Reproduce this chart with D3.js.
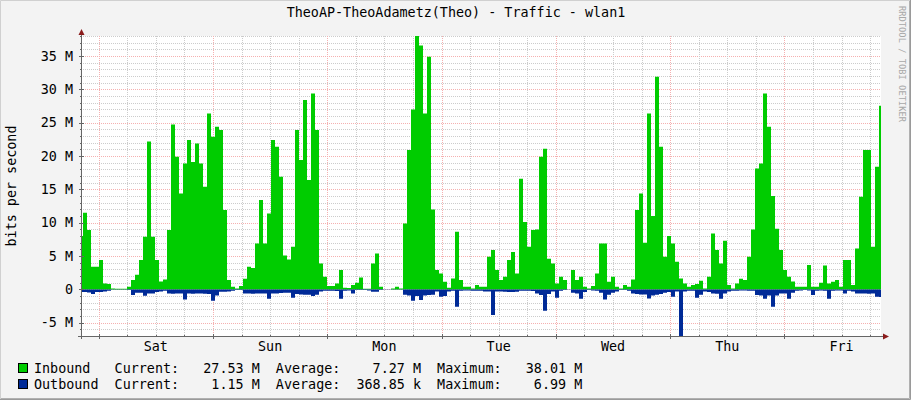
<!DOCTYPE html>
<html><head><meta charset="utf-8">
<script src="https://cdn.jsdelivr.net/npm/d3@7"></script>
<style>
body{margin:0;background:#f3f3f3}
svg{display:block}
text{font-family:"DejaVu Sans Mono",monospace;white-space:pre}
</style>
</head><body><svg id="c" width="911" height="400"></svg>
<script>
// ---- data (Mbit/s), one sample every 7d/200 starting Fri ~20:17 ----
const inbound = [
 8,11.5,8.9,3.4,3.4,4.4,0.9,0.8,0.15,0.1, 0.1,0.1,0.4,1.4,2.2,4.4,7.9,22.2,7.9,4.4,
 1.2,1.5,8.9,24.75,19.9,14.4,18.9,22.4,19.1,21.9, 18.9,15.4,26.4,22.9,
 24.4,23.9,11.9,1.4,0.4,0.15,0.5,1.6,3.4,3.2, 6.9,13.4,6.9,11.4,22.4,21.4,16.9,5.1,4.5,6.4,
 23.9,19.4,28.4,16.4,29.4,23.9,3.9,1.9,0.5,0.5, 0.9,2.9,0.25,0.2,
 0.65,1.0,1.8,0.1,0.1,3.9,5.4,0.4,0,0, 0.15,0.4,0.15,9.9,20.9,27,38.01,36.6,26.4,34.9,
 12,2.9,2.4,1.15,0.25,1.65,8.65,1.4,0.4,0.4, 0.15,0.65,0.4,
 0.4,4.9,5.9,2.9,1.4,1.9,4.4,5.6,2.4,16.6, 10.1,6.4,8.9,9.0,19.9,21.1,4.6,3.9,0.9,1.9,
 1.4,0,2.9,1.4,1.9,0.4,0.15,0.5,2.4,6.9, 6.9,1.15,1.9,0.4,
 0.15,0.65,0.4,1.5,11.9,14.4,7,26.4,11,31.9, 21.4,4.9,8,6.9,4.15,1.65,0.9,0.4,0.65,0.8,
 1.3,0.15,1.9,8.4,5.9,3.9,7.3,0.65,0.15,0.9, 1.6,1.4,4.9,9,
 18.15,18.9,29.4,24.4,14,9.1,5.9,2.9,1.9,1.2, 0.4,0.4,0.4,3.65,0.4,0.4,1.0,3.6,0.9,1.15,
 1.4,0.4,4.4,4.4,0.65,6.15,13.9,20.9,20.9,6.4, 18.4,27.53
];
const outbound = [
 .4,.4,.45,.7,.4,.4,.3,.2,.05,.05, .05,.05,.1,.85,.5,.5,.95,.6,.6,.4,
 .3,.2,.6,.65,.6,.6,1.5,.6,.65,.6, .6,.65,.7,1.7,
 .9,.35,.35,.3,.2,.1,.1,.6,.6,.65, .6,.6,.6,1.4,.6,.6,.55,.5,.5,1.25,
 .7,.75,.8,.8,1.0,.8,.3,.2,.2,.2, .25,1.4,.2,.15,
 .6,.1,.1,.1,.15,.35,.35,.1,.05,.05, .05,.05,.05,.8,.9,1.7,1.0,1.6,.9,.85,
 .8,.3,1.1,1.0,.3,.2,2.6,.2,.15,.15, .2,.2,.2,
 .3,.3,3.85,.3,.3,.35,.4,.4,.35,.2, .2,.2,.25,.6,.85,3.2,.7,.3,1.25,.2,
 .1,.05,.5,.6,1.4,.4,.1,.15,.2,.5, 1.5,.8,.5,.3,
 .1,.1,.2,.6,.7,.75,.75,1.35,.9,.8, .7,.5,.4,1.1,.3,6.99,.3,.2,.2,1.25,
 .8,.3,.4,.6,.65,1.4,.6,.3,.2,.2, .15,.15,.2,.2,
 .85,.9,1.4,.9,2.6,.9,.6,.6,1.4,.5, .2,.15,.1,.15,.85,.2,.15,.2,1.4,.2,
 .15,.15,.6,.2,.3,.6,.6,.6,.65,.6, 1.1,1.15
];
const dayLabels = ["Sat","Sun","Mon","Tue","Wed","Thu","Fri"];
const yTickValues = [-5,0,5,10,15,20,25,30,35];
const yTickLabels = ["-5 M","0","5 M","10 M","15 M","20 M","25 M","30 M","35 M"];
const seriesNames = ["Inbound","Outbound"];
const seriesColors = ["#00cc00","#002a97"];
const currentVals = ["27.53 M","1.15 M"];
const averageVals = ["7.27 M","368.85 k"];
const maximumVals = ["38.01 M","6.99 M"];
const titleText = "TheoAP-TheoAdametz(Theo) - Traffic - wlan1";
const yTitle = "bits per second";
const watermark = "RRDTOOL / TOBI OETIKER";

// ---- scales ----
const start = new Date(2020,0,3,20,17);
const end = new Date(start.getTime() + 7*864e5);
const step = (end - start) / (inbound.length - 1);
const times = inbound.map((_, i) => new Date(start.getTime() + i*step));
const L = 81, R = 881, T = 36, B = 336;
const x = d3.scaleTime().domain([start, end]).range([L, R]);
const y = d3.scaleLinear().domain([-6.99, 38.01]).range([B, T]);
const svg = d3.select("#c");

// canvas shade
svg.append("rect").attr("width",911).attr("height",400).attr("fill","#f3f3f3");
svg.append("path").attr("d","M0.5,399V0.5H910").attr("stroke","#d0d0d0").attr("fill","none");
svg.append("path").attr("d","M910.5,0V399.5H0").attr("stroke","#9a9a9a").attr("fill","none");
svg.append("path").attr("d","M909.5,1V398.5H1").attr("stroke","#b0b0b0").attr("fill","none");

// plot background
svg.append("rect").attr("x",L).attr("y",T).attr("width",R-L).attr("height",B-T).attr("fill","#fff");

const grid = svg.append("g").attr("shape-rendering","crispEdges").attr("stroke-dasharray","1,1");
const minorCol = "#cccccc", majorCol = "#f5b0b0";
// horizontal
d3.range(-6, 39).forEach(v => {
  const yy = Math.round(y(v)) + 0.5;
  grid.append("line").attr("x1",L).attr("x2",R).attr("y1",yy).attr("y2",yy)
    .attr("stroke", v % 5 === 0 ? majorCol : minorCol);
});
// vertical
d3.timeHour.every(6).range(start, end).forEach(t => {
  const xx = Math.round(x(t)) + 0.5;
  const major = t.getHours() === 0;
  grid.append("line").attr("x1",xx).attr("x2",xx).attr("y1",T).attr("y2",B)
    .attr("stroke", major ? majorCol : minorCol);
});

// areas
const areaIn = d3.area().x((d,i)=>x(times[i])).y0(y(0)).y1(d=>y(d)).curve(d3.curveStep);
const areaOut = d3.area().x((d,i)=>x(times[i])).y0(y(0)).y1(d=>y(-d)).curve(d3.curveStep);
svg.append("path").datum(inbound).attr("d",areaIn).attr("fill",seriesColors[0]);
svg.append("path").datum(outbound).attr("d",areaOut).attr("fill",seriesColors[1]);

// axes
const axCol = "#666", arrowCol = "#8b1c1c";
const ax = svg.append("g").attr("shape-rendering","crispEdges");
ax.append("line").attr("x1",L-3).attr("x2",R+4).attr("y1",B+0.5).attr("y2",B+0.5).attr("stroke",axCol);
ax.append("line").attr("x1",L+0.5).attr("x2",L+0.5).attr("y1",T-2).attr("y2",B+3).attr("stroke",axCol);
d3.range(-6, 39).forEach(v => {
  const yy = Math.round(y(v)) + 0.5;
  ax.append("line").attr("x1",L-(v%5===0?2:1)).attr("x2",L+(v%5===0?3:1)).attr("y1",yy).attr("y2",yy).attr("stroke",axCol);
});
d3.timeHour.every(6).range(start, end).forEach(t => {
  const xx = Math.round(x(t)) + 0.5;
  const major = t.getHours() === 0;
  ax.append("line").attr("x1",xx).attr("x2",xx).attr("y1",B-(major?2:1)).attr("y2",B+(major?3:1)).attr("stroke",axCol);
});
svg.append("path").attr("d",`M${L-2.5},${T-1}L${L+3.5},${T-1}L${L+0.5},${T-7}Z`).attr("fill",arrowCol);
svg.append("path").attr("d",`M${R+2},${B-2.5}L${R+2},${B+3.5}L${R+8},${B+0.5}Z`).attr("fill",arrowCol);

// y labels
const fs = "13.4px";
yTickValues.forEach((v,i) => {
  svg.append("text").attr("x",73).attr("y",y(v)+4.5).attr("text-anchor","end")
    .attr("font-size",fs).attr("fill","#000").text(yTickLabels[i]);
});
// x labels at noon
d3.timeDay.range(d3.timeDay.ceil(start), end).forEach((d,i) => {
  const noon = new Date(d.getTime() + 12*3600e3);
  svg.append("text").attr("x",x(noon)).attr("y",351).attr("text-anchor","middle")
    .attr("font-size",fs).attr("fill","#000").text(dayLabels[i]);
});

// title
svg.append("text").attr("x",456).attr("y",17).attr("text-anchor","middle")
  .attr("font-size",fs).attr("fill","#000").text(titleText);
// y title
svg.append("text").attr("transform","translate(16,186) rotate(-90)").attr("text-anchor","middle")
  .attr("font-size",fs).attr("fill","#000").text(yTitle);
// watermark
svg.append("text").attr("transform","translate(899,6) rotate(90)").attr("text-anchor","start")
  .attr("font-size","8.6px").attr("fill","#a8a8a8")
  .style("letter-spacing","0.1px").text(watermark);

// legend
seriesNames.forEach((n,i) => {
  const ty = 372.5 + i*16;
  svg.append("rect").attr("x",18.5).attr("y",ty-9.5).attr("width",9).attr("height",9)
    .attr("fill",seriesColors[i]).attr("stroke","#000").attr("shape-rendering","crispEdges");
  const line = n.padEnd(10) + "Current:" + currentVals[i].padStart(10) +
    "  Average:" + averageVals[i].padStart(10) + "  Maximum:" + maximumVals[i].padStart(10);
  svg.append("text").attr("x",34).attr("y",ty).attr("font-size",fs).attr("fill","#000").text(line);
});
</script></body></html>
